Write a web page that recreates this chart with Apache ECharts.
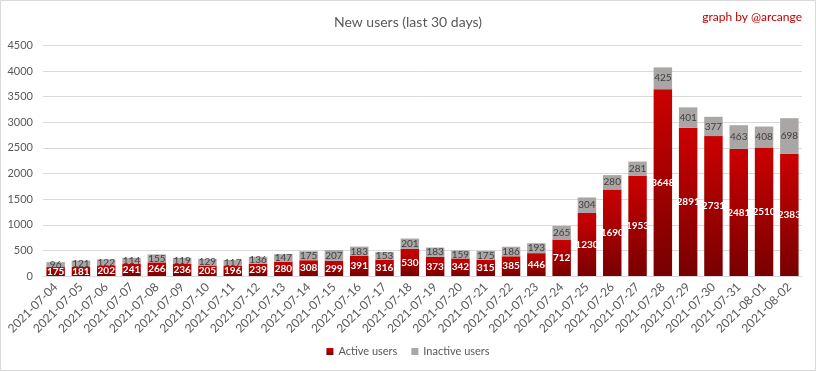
<!DOCTYPE html>
<html>
<head>
<meta charset="utf-8">
<script src="https://cdn.jsdelivr.net/npm/echarts@6/dist/echarts.min.js"></script>
<style>
html,body{margin:0;padding:0;background:#fff;}
#chart{width:816px;height:371px;}
</style>
</head>
<body>
<div id="chart"></div>
<script>
var categories = ['2021-07-04','2021-07-05','2021-07-06','2021-07-07','2021-07-08','2021-07-09','2021-07-10','2021-07-11','2021-07-12','2021-07-13','2021-07-14','2021-07-15','2021-07-16','2021-07-17','2021-07-18','2021-07-19','2021-07-20','2021-07-21','2021-07-22','2021-07-23','2021-07-24','2021-07-25','2021-07-26','2021-07-27','2021-07-28','2021-07-29','2021-07-30','2021-07-31','2021-08-01','2021-08-02'];
var activeUsers = [175,181,202,241,266,236,205,196,239,280,308,299,391,316,530,373,342,315,385,446,712,1230,1690,1953,3648,2891,2731,2481,2510,2383];
var inactiveUsers = [96,121,122,114,155,119,129,117,136,147,175,207,183,153,201,183,159,175,186,193,265,304,280,281,425,401,377,463,408,698];
var yTicks = [0,500,1000,1500,2000,2500,3000,3500,4000,4500];

var FONT = 'Lato, "Open Sans", sans-serif';
var chart = echarts.init(document.getElementById('chart'), null, {renderer:'canvas'});
chart.setOption({
  animation: false,
  backgroundColor: '#ffffff',
  textStyle: {fontFamily: FONT},
  title: [{
    text: 'New users (last 30 days)',
    left: 'center', top: 10,
    textStyle: {fontFamily: FONT, fontSize: 14, fontWeight: 'normal', color: '#595959'}
  },{
    text: 'graph by @arcange',
    right: 9, top: 6,
    textStyle: {fontFamily: FONT, fontSize: 12, fontWeight: 'normal', color: '#c00000'}
  }],
  graphic: [{
    type: 'rect', silent: true, z: -1,
    shape: {x: 0.5, y: 0.5, width: 815, height: 370},
    style: {fill: 'none', stroke: '#d9d9d9', lineWidth: 1}
  }],
  legend: {
    bottom: 9, left: 'center',
    icon: 'rect', itemWidth: 7, itemHeight: 7, itemGap: 14,
    textStyle: {fontFamily: FONT, fontSize: 11, color: '#595959'},
    data: ['Active users', 'Inactive users']
  },
  grid: {left: 43, right: 14, top: 45.5, bottom: 95, containLabel: false},
  xAxis: {
    type: 'category',
    data: categories,
    axisLine: {lineStyle: {color: '#d9d9d9'}},
    axisTick: {show: false},
    axisLabel: {rotate: 45, fontFamily: FONT, fontSize: 12, color: '#595959', margin: 9, interval: 0}
  },
  yAxis: {
    type: 'value',
    min: yTicks[0], max: yTicks[yTicks.length-1], interval: yTicks[1]-yTicks[0],
    axisLine: {show: false},
    axisTick: {show: false},
    axisLabel: {fontFamily: FONT, fontSize: 11, color: '#595959', margin: 10, formatter: function(v){ return String(v); }},
    splitLine: {lineStyle: {color: '#d9d9d9'}}
  },
  series: [{
    name: 'Active users',
    type: 'bar',
    stack: 'total',
    barCategoryGap: '27%',
    data: activeUsers,
    itemStyle: {
      color: new echarts.graphic.LinearGradient(0, 0, 0, 1, [
        {offset: 0, color: '#cc0000'},
        {offset: 1, color: '#780000'}
      ])
    },
    label: {show: true, position: 'inside', color: '#ffffff', fontFamily: FONT, fontSize: 10, fontWeight: 'bold'}
  },{
    name: 'Inactive users',
    type: 'bar',
    stack: 'total',
    barCategoryGap: '27%',
    data: inactiveUsers,
    itemStyle: {color: '#aaa6a6'},
    label: {show: true, position: 'inside', color: '#404040', fontFamily: FONT, fontSize: 10}
  }],
  color: ['#b00000', '#aaa6a6']
});
</script>
</body>
</html>
